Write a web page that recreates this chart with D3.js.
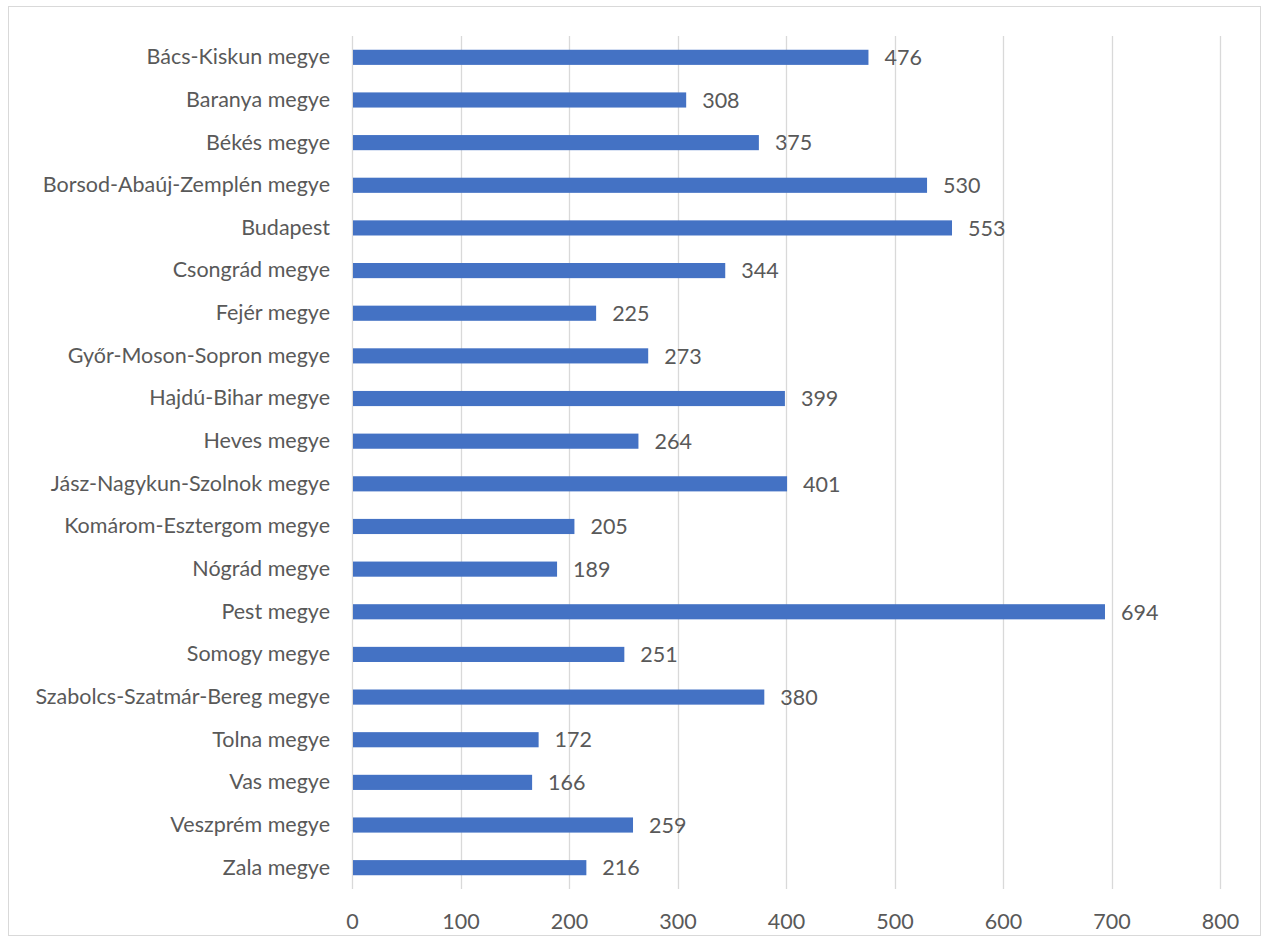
<!DOCTYPE html>
<html>
<head>
<meta charset="utf-8">
<script src="https://cdn.jsdelivr.net/npm/d3@7"></script>
<style>
  html, body { margin: 0; padding: 0; background: #fff; }
  svg text { font-family: Lato, "Open Sans", sans-serif; fill: #595959; }
</style>
</head>
<body>
<svg id="chart" width="1268" height="942"></svg>
<script>
const counties = [
  "Bács-Kiskun megye", "Baranya megye", "Békés megye", "Borsod-Abaúj-Zemplén megye",
  "Budapest", "Csongrád megye", "Fejér megye", "Győr-Moson-Sopron megye",
  "Hajdú-Bihar megye", "Heves megye", "Jász-Nagykun-Szolnok megye", "Komárom-Esztergom megye",
  "Nógrád megye", "Pest megye", "Somogy megye", "Szabolcs-Szatmár-Bereg megye",
  "Tolna megye", "Vas megye", "Veszprém megye", "Zala megye"
];
const values = [476, 308, 375, 530, 553, 344, 225, 273, 399, 264, 401, 205, 189, 694, 251, 380, 172, 166, 259, 216];
const xTicks = [0, 100, 200, 300, 400, 500, 600, 700, 800];

const svg = d3.select("#chart");
const plot = { left: 352, right: 1220, top: 36, bottom: 889 };
const fontSize = 21.5;

// outer frame
svg.append("rect")
  .attr("x", 8.5).attr("y", 6.5).attr("width", 1252).attr("height", 929)
  .attr("fill", "#fff").attr("stroke", "#D9D9D9").attr("stroke-width", 1);

const x = d3.scaleLinear().domain([0, 800]).range([plot.left, plot.right]);
const y = d3.scaleBand().domain(counties).range([plot.top, plot.bottom]).paddingInner(0.645).paddingOuter(0.3225);

// vertical gridlines
svg.append("g").selectAll("line").data(xTicks).join("line")
  .attr("x1", d => Math.round(x(d)) + 0.5).attr("x2", d => Math.round(x(d)) + 0.5)
  .attr("y1", plot.top).attr("y2", plot.bottom)
  .attr("stroke", "#D9D9D9").attr("stroke-width", 1.3);

// bars
svg.append("g").selectAll("rect").data(values).join("rect")
  .attr("x", x(0) + 1)
  .attr("y", (d, i) => y(counties[i]))
  .attr("width", d => x(d) - x(0) - 1)
  .attr("height", y.bandwidth())
  .attr("fill", "#4472C4");

// value labels
svg.append("g").selectAll("text").data(values).join("text")
  .attr("x", d => x(d) + 16)
  .attr("y", (d, i) => y(counties[i]) + y.bandwidth() / 2)
  .attr("dy", "0.36em")
  .attr("font-size", fontSize)
  .text(d => d);

// category labels
const yAxis = d3.axisLeft(y).tickSize(0).tickPadding(22);
const gy = svg.append("g").attr("transform", `translate(${plot.left},0)`).call(yAxis);
gy.select(".domain").remove();
gy.selectAll("text").attr("font-size", fontSize).attr("font-family", null).attr("fill", null);

// x axis labels
const xAxis = d3.axisBottom(x).tickValues(xTicks).tickSize(0).tickPadding(25);
const gx = svg.append("g").attr("transform", `translate(0,${plot.bottom})`).call(xAxis);
gx.select(".domain").remove();
gx.selectAll("text").attr("font-size", fontSize).attr("font-family", null).attr("fill", null);
</script>
</body>
</html>
